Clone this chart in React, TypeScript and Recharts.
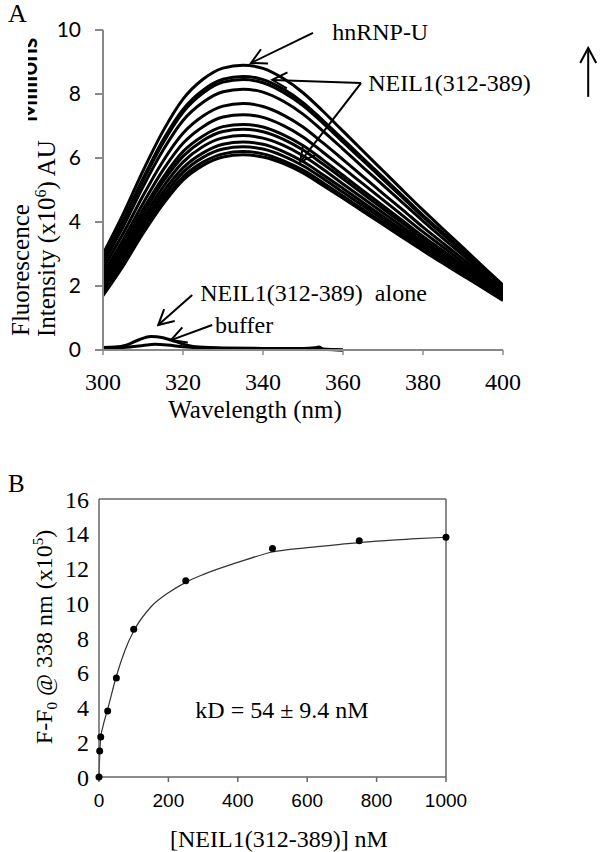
import { LineChart, Line, XAxis, YAxis, ReferenceLine, ReferenceDot, ComposedChart, Scatter } from 'recharts';

const serif = '"Liberation Serif", "Times New Roman", serif';
const sans = '"Liberation Sans", Arial, sans-serif';

// Panel A - emission spectra (x10^6 AU)
const wavelengths = [300, 305, 310, 315, 320, 325, 330, 335, 340, 345, 350, 355, 360, 365, 370, 375, 380, 385, 390, 395, 400];
const hnrnpU = [3.0, 4.24, 5.6, 6.84, 7.84, 8.46, 8.81, 8.9, 8.8, 8.49, 8.04, 7.46, 6.84, 6.22, 5.6, 4.98, 4.37, 3.78, 3.2, 2.61, 2.03];
const neil01 = [2.85, 4.05, 5.36, 6.56, 7.52, 8.12, 8.46, 8.55, 8.45, 8.16, 7.73, 7.17, 6.58, 5.99, 5.4, 4.81, 4.21, 3.66, 3.1, 2.54, 1.98];
const neil02 = [2.8, 3.99, 5.29, 6.47, 7.43, 8.03, 8.37, 8.45, 8.35, 8.06, 7.64, 7.09, 6.5, 5.92, 5.33, 4.75, 4.16, 3.61, 3.06, 2.5, 1.95];
const neil03 = [2.7, 3.84, 5.1, 6.24, 7.17, 7.74, 8.07, 8.15, 8.06, 7.78, 7.37, 6.84, 6.28, 5.71, 5.15, 4.59, 4.03, 3.49, 2.96, 2.43, 1.9];
const neil04 = [2.55, 3.63, 4.82, 5.9, 6.77, 7.31, 7.62, 7.7, 7.61, 7.35, 6.97, 6.47, 5.95, 5.42, 4.89, 4.37, 3.84, 3.34, 2.84, 2.35, 1.85];
const neil05 = [2.4, 3.44, 4.58, 5.62, 6.46, 6.98, 7.28, 7.35, 7.27, 7.02, 6.66, 6.18, 5.69, 5.19, 4.69, 4.19, 3.69, 3.22, 2.74, 2.27, 1.8];
const neil06 = [2.3, 3.3, 4.39, 5.39, 6.2, 6.69, 6.98, 7.05, 6.97, 6.73, 6.39, 5.94, 5.46, 4.98, 4.51, 4.03, 3.55, 3.1, 2.65, 2.2, 1.75];
const neil07 = [2.2, 3.19, 4.27, 5.26, 6.05, 6.55, 6.83, 6.9, 6.82, 6.59, 6.25, 5.81, 5.35, 4.88, 4.41, 3.95, 3.48, 3.04, 2.6, 2.16, 1.72];
const neil08 = [2.1, 3.07, 4.12, 5.09, 5.87, 6.36, 6.63, 6.7, 6.62, 6.4, 6.07, 5.65, 5.19, 4.74, 4.29, 3.84, 3.39, 2.96, 2.53, 2.11, 1.68];
const neil09 = [2.0, 2.95, 3.98, 4.93, 5.69, 6.16, 6.43, 6.5, 6.43, 6.21, 5.89, 5.48, 5.05, 4.61, 4.17, 3.74, 3.3, 2.89, 2.47, 2.06, 1.65];
const neil10 = [1.9, 2.83, 3.86, 4.79, 5.55, 6.02, 6.28, 6.35, 6.28, 6.07, 5.76, 5.36, 4.93, 4.51, 4.08, 3.65, 3.23, 2.83, 2.42, 2.02, 1.62];
const neil11 = [1.8, 2.72, 3.74, 4.66, 5.41, 5.87, 6.13, 6.2, 6.13, 5.92, 5.62, 5.23, 4.81, 4.4, 3.98, 3.57, 3.15, 2.76, 2.37, 1.97, 1.58];
const neil12 = [1.7, 2.62, 3.64, 4.56, 5.31, 5.77, 6.03, 6.1, 6.03, 5.83, 5.53, 5.14, 4.74, 4.33, 3.92, 3.51, 3.1, 2.71, 2.32, 1.94, 1.55];

const aloneWl = [300, 303, 306, 309, 312, 315, 318, 321, 324, 330, 340, 350, 353, 354, 355, 360];
const aloneVals = [0.08, 0.09, 0.16, 0.32, 0.42, 0.38, 0.27, 0.15, 0.09, 0.06, 0.05, 0.05, 0.07, 0.09, 0.03, 0.0];
const bufferWl = [300, 305, 310, 313, 316, 320, 325, 330, 340, 350, 360];
const bufferVals = [0.05, 0.08, 0.14, 0.18, 0.16, 0.1, 0.06, 0.05, 0.04, 0.03, 0.0];

const wlTicks = [300, 320, 340, 360, 380, 400];
const intensityTicks = [0, 2, 4, 6, 8, 10];

// Panel B - titration
const concPts = [0, 2, 5, 25, 50, 100, 250, 500, 750, 1000];
const deltaPts = [0, 1.5, 2.3, 3.8, 5.7, 8.5, 11.3, 13.15, 13.6, 13.8];
const fitConc = [0, 2, 5, 10, 25, 50, 75, 100, 150, 200, 250, 300, 400, 500, 600, 700, 800, 900, 1000];
const fitDelta = [0, 1.2, 2.3, 2.8, 3.9, 5.8, 7.3, 8.4, 9.8, 10.6, 11.2, 11.65, 12.35, 12.95, 13.2, 13.4, 13.58, 13.7, 13.8];
const concTicks = [0, 200, 400, 600, 800, 1000];
const deltaTicks = [0, 2, 4, 6, 8, 10, 12, 14, 16];

const spectra = [hnrnpU, neil01, neil02, neil03, neil04, neil05, neil06, neil07, neil08, neil09, neil10, neil11, neil12];
const specRows = wavelengths.map((w, i) => {
  const row: Record<string, number> = { w };
  spectra.forEach((s, k) => { row['s' + k] = s[i]; });
  return row;
});
const aloneRows = aloneWl.map((w, i) => ({ w, v: aloneVals[i] }));
const bufferRows = bufferWl.map((w, i) => ({ w, v: bufferVals[i] }));
const pointRows = concPts.map((x, i) => ({ x, y: deltaPts[i] }));
const fitRows = fitConc.map((x, i) => ({ x, y: fitDelta[i] }));

// annotation arrows, in data units of panel A: [tailX, tailY, tipX, tipY]
const arrowsA = [
  [352.5, 9.91, 337, 8.97],
  [364.5, 8.34, 342.3, 8.44],
  [364.5, 8.34, 349.3, 5.88],
  [421.3, 7.91, 421.3, 9.44],
  [322.3, 1.72, 313.8, 0.78],
  [327.3, 0.78, 317, 0.31],
];
const notesA = [
  { x: 357.3, y: 9.69, text: 'hnRNP-U' },
  { x: 366.3, y: 8.09, text: 'NEIL1(312-389)' },
  { x: 324.3, y: 1.53, text: 'NEIL1(312-389)\u00a0 alone' },
  { x: 328, y: 0.53, text: 'buffer' },
];

const NoteText = (props: any) => {
  const vb = props.viewBox || {};
  return (
    <text x={vb.x} y={vb.y} fontFamily={serif} fontSize={24} fill="#000">
      {props.text}
    </text>
  );
};

// tick renderers (font per axis, like the original figure)
const makeTick = (family: string, size: number, anchor: 'middle' | 'end', dy: string) => (props: any) => (
  <text x={props.x} y={props.y} dy={dy} textAnchor={anchor} fontFamily={family} fontSize={size} fill="#000">
    {props.payload.value}
  </text>
);
const WlTick = makeTick(serif, 24, 'middle', '0.71em');
const IntensityTick = makeTick('Lato', 21, 'end', '0.355em');
const ConcTick = makeTick(sans, 19, 'middle', '0.71em');
const DeltaTick = makeTick(serif, 24, 'end', '0.355em');

const BlackDot = (props: any) => <circle cx={props.cx} cy={props.cy} r={3.5} fill="#000" />;

export default function App() {
  return (
    <div style={{ position: 'absolute', left: 0, top: 0, width: 600, height: 852, background: '#fff' }}>
      <div style={{ position: 'absolute', left: 0, top: 0 }}>
        <LineChart width={600} height={430} data={specRows} margin={{ top: 30, right: 97, bottom: 40, left: 0 }}>
          <XAxis
            dataKey="w"
            type="number"
            domain={[300, 400]}
            ticks={wlTicks}
            interval={0}
            allowDataOverflow
            height={40}
            axisLine={{ stroke: '#888', strokeWidth: 2 }}
            tickLine={{ stroke: '#888', strokeWidth: 1.5 }}
            tickSize={5}
            tickMargin={18}
            tick={WlTick}
          />
          <YAxis
            type="number"
            domain={[0, 10]}
            ticks={intensityTicks}
            interval={0}
            width={103}
            axisLine={{ stroke: '#888', strokeWidth: 2 }}
            tickLine={{ stroke: '#888', strokeWidth: 2 }}
            tickSize={8}
            tickMargin={14}
            tick={IntensityTick}
          />
          {spectra.map((_, k) => (
            <Line key={k} dataKey={'s' + k} type="monotone" stroke="#000" strokeWidth={3} dot={false} isAnimationActive={false} />
          ))}
          <Line data={aloneRows} dataKey="v" type="monotone" stroke="#000" strokeWidth={3} dot={false} isAnimationActive={false} />
          <Line data={bufferRows} dataKey="v" type="monotone" stroke="#000" strokeWidth={3} dot={false} isAnimationActive={false} />
          {arrowsA.map((a, i) => (
            <ReferenceLine
              key={'ar' + i}
              segment={[{ x: a[0], y: a[1] }, { x: a[2], y: a[3] }]}
              stroke="#000"
              strokeWidth={2}
              ifOverflow="visible"
              markerEnd="url(#openHead)"
            />
          ))}
          {notesA.map((n, i) => (
            <ReferenceDot key={'n' + i} x={n.x} y={n.y} r={0} stroke="none" fill="none" ifOverflow="visible" label={<NoteText text={n.text} />} />
          ))}
        </LineChart>
      </div>

      <div style={{ position: 'absolute', left: 0, top: 430 }}>
        <ComposedChart width={600} height={422} margin={{ top: 69, right: 154, bottom: 35, left: 0 }}>
          <XAxis
            dataKey="x"
            type="number"
            domain={[0, 1000]}
            ticks={concTicks}
            interval={0}
            height={40}
            axisLine={{ stroke: '#666', strokeWidth: 1.5 }}
            tickLine={{ stroke: '#666', strokeWidth: 1.5 }}
            tickSize={5}
            tickMargin={12}
            tick={ConcTick}
          />
          <YAxis
            dataKey="y"
            type="number"
            domain={[0, 16]}
            ticks={deltaTicks}
            interval={0}
            width={99}
            axisLine={{ stroke: '#666', strokeWidth: 1.5 }}
            tickLine={false}
            tickSize={0}
            tickMargin={10}
            tick={DeltaTick}
          />
          <ReferenceLine y={16} stroke="#666" strokeWidth={1.5} />
          <ReferenceLine x={1000} stroke="#666" strokeWidth={1.5} />
          <Line data={fitRows} dataKey="y" type="monotone" stroke="#333" strokeWidth={1.2} dot={false} isAnimationActive={false} />
          <Scatter data={pointRows} dataKey="y" fill="#000" shape={<BlackDot />} isAnimationActive={false} />
        </ComposedChart>
      </div>

      <svg width={600} height={852} style={{ position: 'absolute', left: 0, top: 0, pointerEvents: 'none' }}>
        <defs>
          <marker id="openHead" markerUnits="userSpaceOnUse" markerWidth={20} markerHeight={20} viewBox="0 0 20 20" refX={18} refY={10} orient="auto">
            <path d="M3,2 L18,10 L3,18" fill="none" stroke="#000" strokeWidth={2} />
          </marker>
          <clipPath id="millionsClip">
            <rect x={28} y={0} width={20} height={200} />
          </clipPath>
        </defs>
        <text x={8} y={22} fontFamily={serif} fontSize={26}>A</text>
        <g clipPath="url(#millionsClip)">
          <text
            x={37}
            y={80}
            fontFamily="Lato"
            fontWeight="bold"
            fontSize={24}
            textAnchor="middle"
            transform="rotate(-90 37 80)"
          >
            Millions
          </text>
        </g>
        <text x={29} y={336} fontFamily={serif} fontSize={25} transform="rotate(-90 29 336)">Fluorescence</text>
        <text x={55} y={337} fontFamily={serif} fontSize={25} transform="rotate(-90 55 337)">
          Intensity (x10<tspan fontSize={16} dy={-9}>6</tspan><tspan dy={9}>) AU</tspan>
        </text>
        <text x={255} y={418} fontFamily={serif} fontSize={25} textAnchor="middle">Wavelength (nm)</text>

        <text x={8} y={492} fontFamily={serif} fontSize={25}>B</text>
        <text x={52} y={637} fontFamily={serif} fontSize={24} textAnchor="middle" transform="rotate(-90 52 637)">
          F-F<tspan fontSize={15} dy={5}>0</tspan><tspan dy={-5}> @ 338 nm (x10</tspan><tspan fontSize={15} dy={-9}>5</tspan><tspan dy={9}>)</tspan>
        </text>
        <text x={282} y={718} fontFamily={serif} fontSize={24} textAnchor="middle">kD = 54 ± 9.4 nM</text>
        <text x={279} y={847} fontFamily={serif} fontSize={24} textAnchor="middle">[NEIL1(312-389)] nM</text>
      </svg>
    </div>
  );
}
